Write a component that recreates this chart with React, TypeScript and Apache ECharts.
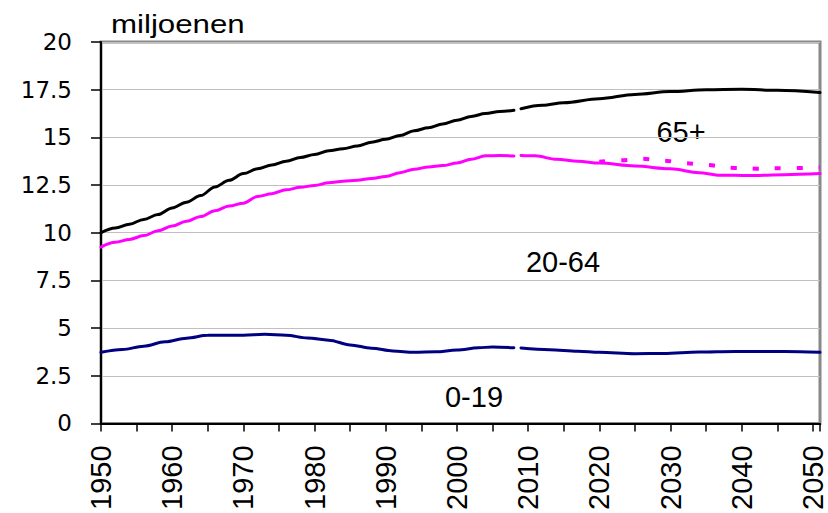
import React, { useEffect, useRef } from "react";
import * as echarts from "echarts";

// Bevolking naar leeftijd (cumulatief), miljoenen
const totalHist: [number, number][] = [
  [1950, 10.0], [1952, 10.25], [1954, 10.45], [1956, 10.7], [1958, 10.95],
  [1960, 11.3], [1962, 11.6], [1964, 11.95], [1966, 12.4], [1968, 12.75],
  [1970, 13.1], [1972, 13.35], [1974, 13.55], [1976, 13.75], [1978, 13.95],
  [1980, 14.1], [1982, 14.3], [1984, 14.4], [1986, 14.55], [1988, 14.75],
  [1990, 14.9], [1992, 15.1], [1994, 15.35], [1996, 15.5], [1998, 15.7],
  [2000, 15.9], [2002, 16.1], [2004, 16.25], [2006, 16.35], [2008, 16.42],
];
const totalProj: [number, number][] = [
  [2009, 16.5], [2012, 16.68], [2015, 16.82], [2020, 17.03], [2025, 17.25],
  [2030, 17.4], [2035, 17.5], [2040, 17.52], [2045, 17.47], [2051, 17.35],
];
const workHist: [number, number][] = [
  [1950, 9.25], [1952, 9.5], [1954, 9.65], [1956, 9.85], [1958, 10.1],
  [1960, 10.35], [1962, 10.6], [1964, 10.85], [1966, 11.15], [1968, 11.4],
  [1970, 11.55], [1972, 11.9], [1974, 12.05], [1976, 12.25], [1978, 12.38],
  [1980, 12.48], [1982, 12.62], [1984, 12.7], [1986, 12.75], [1988, 12.85],
  [1990, 12.95], [1992, 13.15], [1994, 13.33], [1996, 13.45], [1998, 13.52],
  [2000, 13.65], [2002, 13.85], [2004, 14.03], [2006, 14.05], [2008, 14.02],
];
const workProj: [number, number][] = [
  [2009, 14.05], [2011, 14.03], [2014, 13.85], [2017, 13.75], [2020, 13.65],
  [2025, 13.5], [2030, 13.35], [2034, 13.15], [2037, 13.02], [2041, 13.0],
  [2046, 13.04], [2051, 13.1],
];
const workAlt: [number, number][] = [
  [2020, 13.72], [2023, 13.8], [2026, 13.88], [2029, 13.78], [2032, 13.65],
  [2035, 13.55], [2039, 13.4], [2042, 13.36], [2045, 13.38], [2051, 13.42],
];
const youngHist: [number, number][] = [
  [1950, 3.73], [1953, 3.88], [1956, 4.05], [1959, 4.28], [1962, 4.47],
  [1965, 4.62], [1968, 4.63], [1970, 4.63], [1973, 4.68], [1976, 4.63],
  [1979, 4.48], [1982, 4.37], [1985, 4.12], [1988, 3.95], [1991, 3.8],
  [1994, 3.73], [1997, 3.76], [2000, 3.85], [2003, 3.97], [2005, 4.01],
  [2008, 3.97],
];
const youngProj: [number, number][] = [
  [2009, 3.96], [2013, 3.87], [2017, 3.79], [2020, 3.73], [2025, 3.66],
  [2029, 3.67], [2034, 3.75], [2039, 3.78], [2046, 3.78], [2051, 3.73],
];

const unitLabel = "miljoenen";
const seriesLabels = ["65+", "20-64", "0-19"];

const FONT = "'Liberation Sans', Arial, sans-serif";

export default function App() {
  const ref = useRef<HTMLDivElement>(null);
  useEffect(() => {
    if (!ref.current) return;
    const chart = echarts.init(ref.current, null, { renderer: "svg" });
    const line = (data: [number, number][], color: string, extra: any = {}) => ({
      type: "line",
      data,
      symbol: "none",
      smooth: 0.35,
      smoothMonotone: "x",
      silent: true,
      lineStyle: { color, width: 3, cap: "round", ...extra },
    });
    chart.setOption({
      animation: false,
      backgroundColor: "#ffffff",
      grid: {
        left: 101,
        right: 8,
        top: 42,
        bottom: 87,
        show: true,
        borderColor: "#888888",
        borderWidth: 3,
        backgroundColor: "#ffffff",
      },
      xAxis: {
        type: "value",
        min: 1950,
        max: 2051,
        interval: 5,
        axisLine: { show: true, lineStyle: { color: "#000", width: 2 } },
        axisTick: { show: true, length: 8, lineStyle: { color: "#000", width: 1.5 } },
        splitLine: { show: false },
        axisLabel: {
          rotate: 90,
          margin: 22,
          fontFamily: FONT,
          fontSize: 29,
          color: "#000",
          formatter: (v: number) => (v % 10 === 0 && v <= 2050 ? String(v) : ""),
        },
      },
      yAxis: {
        type: "value",
        min: 0,
        max: 20,
        interval: 2.5,
        axisLine: { show: true, lineStyle: { color: "#000", width: 2 } },
        axisTick: { show: true, length: 10, lineStyle: { color: "#000", width: 1.5 } },
        splitLine: { show: true, lineStyle: { color: "#c0c0c0", width: 1 } },
        axisLabel: {
          margin: 29,
          fontFamily: "'DejaVu Sans', sans-serif",
          fontSize: 23,
          color: "#000",
        },
      },
      series: [
        line(totalHist, "#000000"),
        line(totalProj, "#000000"),
        line(workHist, "#ff00ff"),
        line(workProj, "#ff00ff"),
        line(workAlt, "#ff00ff", { type: [6, 16], width: 4, cap: "butt" }),
        line(youngHist, "#000080"),
        line(youngProj, "#000080"),
      ],
      graphic: [
        {
          type: "text",
          x: 111,
          y: 24,
          scaleX: 1.25,
          style: { text: unitLabel, font: `25px ${FONT}`, fill: "#000", verticalAlign: "middle", align: "left" },
        },
        {
          type: "text",
          x: 681,
          y: 132,
          style: { text: seriesLabels[0], font: `29px ${FONT}`, fill: "#000", verticalAlign: "middle", align: "center" },
        },
        {
          type: "text",
          x: 563,
          y: 262,
          style: { text: seriesLabels[1], font: `29px ${FONT}`, fill: "#000", verticalAlign: "middle", align: "center" },
        },
        {
          type: "text",
          x: 474,
          y: 397,
          style: { text: seriesLabels[2], font: `29px ${FONT}`, fill: "#000", verticalAlign: "middle", align: "center" },
        },
      ],
    });
    return () => chart.dispose();
  }, []);
  return (
    <div
      ref={ref}
      style={{ position: "fixed", left: 0, top: 0, width: 828, height: 513 }}
    />
  );
}
